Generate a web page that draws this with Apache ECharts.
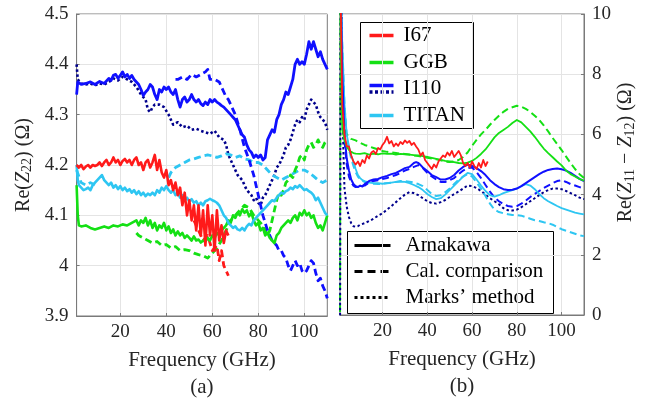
<!DOCTYPE html>
<html><head><meta charset="utf-8">
<script src="https://cdn.jsdelivr.net/npm/echarts@6/dist/echarts.min.js"></script>
<style>html,body{margin:0;background:#fff}#c{width:654px;height:399px}</style>
</head><body><div id="c"></div><script>
// ---- Panel (a): Re(Z22) in ohms vs frequency in GHz ----
const z22_I110_amakawa = [[1,4.34],[1.5,4.365],[3,4.36],[5,4.362],[7,4.365],[9,4.36],[11,4.366],[13,4.362],[15,4.372],[16,4.368],[17,4.378],[18,4.38],[19,4.372],[20,4.378],[21,4.385],[22,4.375],[23,4.38],[24,4.372],[25,4.378],[26,4.37],[27,4.365],[28,4.36],[29,4.35],[30,4.338],[31,4.345],[32,4.35],[33,4.36],[34,4.355],[35,4.34],[36,4.33],[37,4.35],[38,4.345],[39,4.355],[40,4.35],[41,4.355],[42,4.345],[43,4.34],[44,4.35],[45,4.33],[46,4.315],[47,4.33],[48,4.335],[49,4.325],[50,4.33],[51,4.34],[52,4.33],[53,4.325],[54,4.33],[55,4.322],[56,4.318],[57,4.325],[58,4.32],[59,4.33],[60,4.325],[61,4.33],[62,4.325],[63,4.322],[64,4.318],[65,4.315],[66,4.31],[67,4.305],[68,4.30],[69,4.295],[70,4.29],[71,4.28],[72,4.27],[73,4.26],[74,4.255],[75,4.24],[76,4.23],[77,4.225],[78,4.215],[79,4.22],[80,4.215],[81,4.22],[82,4.21],[83,4.215],[84,4.25],[85,4.26],[86,4.27],[87,4.265],[88,4.29],[89,4.30],[90,4.32],[91,4.33],[92,4.345],[93,4.34],[94,4.355],[95,4.37],[96,4.40],[97,4.41],[98,4.40],[99,4.405],[100,4.40],[101,4.42],[102,4.445],[103,4.43],[104,4.445],[105,4.43],[106,4.415],[107,4.425],[108,4.41],[109,4.40],[110,4.39]];
const z22_I110_cal = [[44,4.37],[45,4.37],[47,4.375],[49,4.37],[51,4.38],[53,4.375],[55,4.38],[57,4.385],[58,4.39],[59,4.37],[61,4.37],[63,4.365],[65,4.345],[66,4.335],[67,4.33],[68,4.32],[70,4.30],[72,4.27],[74,4.235],[76,4.21],[78,4.18],[79,4.16],[80,4.14],[81,4.12],[82,4.10],[83,4.085],[84,4.07],[85,4.06],[86,4.05],[87,4.045],[88,4.04],[89,4.03],[90,4.03],[91,4.02],[92,4.015],[93,4.0],[94,3.99],[95,4.0],[96,4.01],[97,4.0],[98,4.005],[99,3.99],[100,3.985],[101,3.99],[102,4.0],[103,4.01],[104,4.005],[105,3.985],[106,3.97],[107,3.975],[108,3.96],[109,3.95],[110,3.935]];
const z22_I110_marks = [[1,4.40],[1.5,4.37],[3,4.362],[5,4.36],[7,4.362],[9,4.358],[11,4.362],[13,4.36],[15,4.365],[17,4.372],[19,4.368],[21,4.375],[23,4.37],[25,4.365],[27,4.355],[29,4.34],[31,4.33],[32,4.31],[33,4.305],[34,4.315],[35,4.32],[37,4.32],[39,4.315],[41,4.30],[42,4.29],[43,4.28],[45,4.285],[47,4.275],[49,4.278],[51,4.27],[53,4.272],[55,4.268],[57,4.265],[59,4.262],[61,4.268],[63,4.255],[65,4.25],[66,4.24],[67,4.22],[68,4.21],[69,4.20],[70,4.19],[71,4.18],[72,4.175],[73,4.17],[74,4.16],[75,4.15],[76,4.145],[77,4.14],[78,4.13],[79,4.135],[80,4.125],[81,4.12],[82,4.135],[83,4.14],[84,4.15],[85,4.16],[86,4.17],[87,4.18],[88,4.195],[89,4.2],[90,4.21],[91,4.22],[92,4.235],[93,4.24],[94,4.25],[95,4.265],[96,4.28],[97,4.29],[98,4.285],[99,4.295],[100,4.29],[101,4.31],[102,4.32],[103,4.33],[104,4.325],[105,4.32],[106,4.305],[107,4.295],[108,4.29],[109,4.285],[110,4.27]];
const z22_I67_amakawa = [[1,4.20],[2,4.195],[3,4.2],[4,4.192],[5,4.197],[6,4.2],[7,4.195],[8,4.2],[9,4.198],[10,4.2],[11,4.205],[12,4.198],[13,4.205],[14,4.21],[15,4.2],[16,4.205],[17,4.215],[18,4.205],[19,4.21],[20,4.2],[21,4.208],[22,4.212],[23,4.205],[24,4.21],[25,4.2],[26,4.21],[27,4.215],[28,4.2],[29,4.205],[30,4.19],[31,4.205],[32,4.21],[33,4.195],[34,4.205],[35,4.22],[36,4.19],[37,4.21],[38,4.185],[39,4.175],[40,4.19],[41,4.16],[42,4.17],[43,4.15],[44,4.165],[45,4.14],[46,4.155],[47,4.12],[48,4.145],[49,4.10],[50,4.13],[51,4.09],[52,4.12],[53,4.07],[54,4.12],[55,4.06],[56,4.11],[57,4.04],[58,4.12],[59,4.06],[60,4.10],[61,4.03],[62,4.11],[63,4.05],[64,4.08],[65,4.045],[66,4.07],[67,4.06]];
const z22_I67_cal = [[52,4.09],[54,4.07],[56,4.05],[58,4.06],[60,4.03],[62,4.04],[63,4.01],[64,4.03],[65,4.0],[66,3.99],[67,3.98]];
const z22_GGB_amakawa = [[1,4.16],[1.5,4.10],[2,4.08],[3,4.078],[5,4.08],[7,4.075],[9,4.072],[11,4.075],[13,4.078],[15,4.075],[17,4.08],[19,4.078],[21,4.082],[23,4.08],[25,4.085],[27,4.09],[28,4.08],[29,4.09],[30,4.085],[31,4.095],[32,4.08],[33,4.09],[34,4.075],[35,4.085],[36,4.07],[37,4.08],[38,4.075],[39,4.085],[40,4.07],[41,4.078],[42,4.065],[43,4.072],[44,4.06],[45,4.068],[46,4.06],[47,4.065],[48,4.055],[49,4.06],[50,4.055],[51,4.05],[52,4.058],[53,4.05],[54,4.052],[55,4.046],[56,4.05],[57,4.048],[58,4.055],[59,4.05],[60,4.06],[61,4.055],[62,4.065],[63,4.06],[64,4.07],[65,4.075],[66,4.08],[67,4.09],[68,4.085],[69,4.1],[70,4.095],[71,4.105],[72,4.1],[73,4.112],[74,4.105],[75,4.11],[76,4.098],[77,4.105],[78,4.09],[79,4.08],[80,4.085],[81,4.07],[82,4.075],[83,4.06],[84,4.065],[85,4.055],[86,4.05],[87,4.045],[88,4.06],[89,4.065],[90,4.075],[91,4.08],[92,4.085],[93,4.09],[94,4.085],[95,4.095],[96,4.1],[97,4.09],[98,4.105],[99,4.1],[100,4.11],[101,4.1],[102,4.105],[103,4.095],[104,4.1],[105,4.085],[106,4.075],[107,4.08],[108,4.07],[109,4.085],[110,4.1]];
const z22_GGB_cal = [[27,4.065],[28,4.06],[30,4.055],[32,4.05],[34,4.045],[36,4.048],[38,4.04],[40,4.042],[42,4.035],[44,4.038],[46,4.03],[48,4.032],[50,4.03],[52,4.025],[54,4.022],[56,4.02],[58,4.015],[60,4.025],[62,4.035],[64,4.05],[66,4.07],[68,4.09],[70,4.1],[72,4.11],[74,4.12],[76,4.115],[78,4.1],[80,4.09],[82,4.08],[84,4.06],[85,4.07],[86,4.09],[87,4.11],[88,4.13],[89,4.145],[90,4.14],[91,4.15],[92,4.165],[93,4.17],[94,4.18],[95,4.175],[96,4.19],[97,4.2],[98,4.215],[99,4.22],[100,4.21],[101,4.23],[102,4.24],[103,4.245],[104,4.235],[105,4.24],[106,4.25],[107,4.24],[108,4.235],[109,4.245],[110,4.25]];
const z22_TITAN_amakawa = [[1,4.20],[1.5,4.17],[2,4.16],[3,4.155],[4,4.15],[5,4.152],[6,4.155],[7,4.15],[8,4.16],[9,4.165],[10,4.17],[11,4.175],[12,4.18],[13,4.17],[14,4.165],[15,4.16],[16,4.165],[17,4.155],[18,4.16],[19,4.152],[20,4.158],[21,4.15],[22,4.155],[23,4.148],[24,4.152],[25,4.145],[26,4.15],[27,4.142],[28,4.148],[29,4.14],[30,4.145],[31,4.138],[32,4.143],[33,4.14],[34,4.145],[35,4.14],[36,4.15],[37,4.145],[38,4.155],[39,4.15],[40,4.158],[41,4.15],[42,4.145],[43,4.15],[44,4.14],[45,4.145],[46,4.135],[47,4.14],[48,4.13],[49,4.135],[50,4.128],[51,4.132],[52,4.125],[53,4.128],[54,4.12],[55,4.125],[56,4.12],[57,4.128],[58,4.13],[59,4.133],[60,4.13],[61,4.128],[62,4.125],[63,4.12],[64,4.11],[65,4.1],[66,4.095],[67,4.085],[68,4.08],[69,4.075],[70,4.078],[71,4.072],[72,4.07],[73,4.075],[74,4.07],[75,4.078],[76,4.083],[77,4.08],[78,4.09],[79,4.095],[80,4.1],[81,4.105],[82,4.11],[83,4.115],[84,4.12],[85,4.125],[86,4.13],[87,4.128],[88,4.135],[89,4.14],[90,4.145],[91,4.143],[92,4.148],[93,4.15],[94,4.155],[95,4.152],[96,4.158],[97,4.155],[98,4.16],[99,4.155],[100,4.15],[101,4.152],[102,4.148],[103,4.145],[104,4.14],[105,4.13],[106,4.135],[107,4.125],[108,4.115],[109,4.105],[110,4.1]];
const z22_TITAN_cal = [[1,4.19],[3,4.165],[5,4.16],[7,4.165],[9,4.16],[9.5,null],[41,4.175],[42,4.185],[43,4.19],[44,4.195],[46,4.2],[48,4.205],[50,4.21],[52,4.212],[54,4.215],[56,4.218],[58,4.22],[60,4.218],[62,4.215],[64,4.218],[66,4.222],[68,4.22],[70,4.215],[72,4.218],[74,4.212],[76,4.21],[78,4.205],[80,4.205],[82,4.2],[84,4.19],[86,4.18],[88,4.175],[90,4.17],[92,4.175],[94,4.18],[96,4.185],[98,4.19],[100,4.19],[102,4.185],[104,4.178],[106,4.17],[108,4.165],[110,4.17]];

// ---- Panel (b): Re(Z11 - Z12) in ohms vs frequency in GHz ----
const zs_I67_amakawa = [[1,12],[2,7],[3,6.0],[4,5.6],[5,5.6],[6,5.3],[7,5.1],[8,5.0],[9,5.1],[10,4.95],[11,5.15],[12,5.05],[13,5.3],[14,5.2],[15,5.4],[16,5.45],[17,5.35],[18,5.55],[19,5.5],[20,5.65],[21,5.75],[22,5.92],[23,5.7],[24,5.78],[25,5.6],[26,5.7],[27,5.62],[28,5.75],[29,5.68],[30,5.8],[31,5.72],[32,5.78],[33,5.65],[34,5.72],[35,5.6],[36,5.5],[37,5.3],[38,5.4],[39,5.15],[40,5.05],[41,4.95],[42,4.85],[43,5.0],[44,4.9],[45,5.1],[46,5.2],[47,5.3],[48,5.25],[49,5.4],[50,5.3],[51,5.45],[52,5.25],[53,5.35],[54,5.45],[55,5.3],[56,5.05],[57,4.95],[58,5.05],[59,4.9],[60,5.1],[61,4.95],[62,4.85],[63,5.05],[64,4.9],[65,5.15],[66,4.95],[67,5.1]];
const zs_GGB_amakawa = [[1,12],[1.5,8],[2,6.2],[3,5.8],[4,5.6],[5,5.48],[6,5.42],[7,5.38],[8,5.36],[10,5.35],[12,5.38],[14,5.33],[16,5.36],[18,5.34],[20,5.37],[22,5.35],[24,5.36],[26,5.33],[28,5.35],[30,5.34],[32,5.33],[34,5.31],[36,5.3],[38,5.28],[40,5.25],[42,5.22],[44,5.19],[46,5.15],[48,5.12],[50,5.1],[52,5.08],[54,5.05],[56,5.04],[58,5.06],[60,5.12],[62,5.22],[64,5.35],[66,5.5],[68,5.7],[70,5.9],[72,6.05],[74,6.15],[76,6.25],[78,6.38],[80,6.48],[82,6.4],[84,6.25],[86,6.1],[88,5.92],[90,5.72],[92,5.53],[94,5.38],[96,5.24],[98,5.1],[100,4.97],[102,4.8],[104,4.68],[106,4.6],[108,4.52],[110,4.46]];
const zs_GGB_cal = [[1,12],[2,7],[3,6.2],[4,6.0],[5,5.92],[6,5.85],[8,5.8],[10,5.72],[12,5.65],[14,5.6],[16,5.55],[18,5.5],[20,5.45],[22,5.42],[24,5.4],[26,5.38],[28,5.36],[30,5.35],[32,5.33],[34,5.3],[36,5.28],[38,5.25],[40,5.22],[42,5.2],[44,5.17],[46,5.14],[48,5.1],[50,5.08],[52,5.1],[54,5.15],[56,5.25],[58,5.4],[60,5.62],[62,5.82],[64,6.0],[66,6.15],[68,6.32],[70,6.48],[72,6.62],[74,6.75],[76,6.85],[78,6.9],[80,6.95],[82,6.92],[84,6.85],[86,6.75],[88,6.62],[90,6.48],[92,6.3],[94,6.1],[96,5.88],[98,5.68],[100,5.48],[102,5.26],[104,5.05],[106,4.85],[108,4.68],[110,4.55]];
const zs_GGB_marks = [[1,-1],[1.3,14]];
const zs_I110_amakawa = [[1,12],[2,8],[3,6.0],[4,5.2],[5,4.8],[6,4.5],[7,4.35],[8,4.28],[9,4.25],[10,4.3],[11,4.27],[12,4.35],[13,4.4],[14,4.45],[16,4.5],[18,4.52],[20,4.58],[22,4.62],[24,4.68],[26,4.72],[28,4.8],[30,4.88],[32,4.92],[34,5.05],[35,5.08],[36,5.05],[37,4.98],[38,4.9],[40,4.78],[42,4.65],[44,4.58],[46,4.5],[48,4.5],[50,4.55],[52,4.65],[54,4.8],[56,4.92],[58,5.0],[60,4.95],[62,4.88],[64,4.78],[66,4.65],[68,4.48],[70,4.35],[72,4.25],[74,4.18],[76,4.15],[78,4.16],[80,4.2],[82,4.28],[84,4.38],[86,4.48],[88,4.58],[90,4.68],[92,4.76],[94,4.82],[96,4.85],[98,4.87],[100,4.84],[102,4.8],[104,4.72],[106,4.62],[108,4.52],[110,4.45]];
const zs_I110_cal = [[1,12],[2,8],[3,5.8],[4,5.0],[5,4.6],[6,4.4],[7,4.3],[8,4.25],[10,4.28],[12,4.3],[14,4.4],[16,4.45],[18,4.48],[20,4.52],[22,4.55],[24,4.6],[26,4.65],[28,4.72],[30,4.8],[32,4.85],[34,4.92],[36,4.98],[38,4.88],[40,4.72],[42,4.6],[44,4.5],[46,4.42],[48,4.42],[50,4.48],[52,4.55],[54,4.68],[56,4.8],[58,4.88],[60,4.9],[62,4.75],[64,4.55],[66,4.32],[68,4.1],[70,3.9],[72,3.78],[74,3.68],[76,3.62],[78,3.6],[80,3.62],[82,3.7],[84,3.8],[86,3.92],[88,4.02],[90,4.12],[92,4.22],[94,4.3],[96,4.38],[98,4.45],[100,4.48],[102,4.42],[104,4.35],[106,4.3],[108,4.25],[110,4.2]];
const zs_I110_marks = [[1,-2],[1.3,14],[2,8],[2.5,5.5],[3,4.2],[4,3.6],[5,3.25],[6,3.05],[7,2.95],[8,2.93],[9,2.95],[10,3.0],[12,3.05],[14,3.12],[16,3.2],[18,3.3],[20,3.38],[22,3.5],[24,3.62],[26,3.75],[28,3.88],[30,4.0],[32,4.08],[34,4.05],[36,3.98],[38,3.88],[40,3.78],[42,3.72],[44,3.7],[46,3.75],[48,3.82],[50,3.92],[52,4.02],[54,4.1],[56,4.2],[58,4.3],[60,4.28],[62,4.22],[64,4.12],[66,4.0],[68,3.88],[70,3.78],[72,3.68],[74,3.55],[76,3.48],[78,3.47],[80,3.5],[82,3.58],[84,3.68],[86,3.78],[88,3.88],[90,3.98],[92,4.08],[94,4.15],[96,4.2],[98,4.2],[100,4.18],[102,4.12],[104,4.05],[106,3.98],[108,3.9],[110,3.85]];
const zs_TITAN_amakawa = [[1,12],[2,9],[3,7],[4,6.0],[5,5.6],[6,5.3],[7,5.1],[8,4.85],[9,4.65],[10,4.55],[11,4.48],[12,4.45],[14,4.4],[16,4.38],[18,4.38],[20,4.36],[22,4.38],[24,4.4],[26,4.42],[28,4.43],[30,4.42],[32,4.38],[34,4.32],[36,4.25],[38,4.15],[40,4.02],[42,3.92],[44,3.85],[46,3.88],[48,4.0],[50,4.15],[52,4.3],[54,4.45],[56,4.6],[58,4.72],[60,4.68],[62,4.5],[64,4.3],[66,4.12],[68,3.98],[70,3.93],[72,3.98],[74,4.05],[76,4.1],[78,4.15],[80,4.2],[82,4.28],[84,4.35],[86,4.3],[88,4.18],[90,4.02],[92,3.88],[94,3.78],[96,3.7],[98,3.62],[100,3.55],[102,3.5],[104,3.45],[106,3.4],[108,3.37],[110,3.34]];
const zs_TITAN_cal = [[1,12],[2,9],[3,7],[4,6.0],[5,5.5],[6,5.2],[7,4.95],[8,4.75],[9,4.6],[10,4.5],[12,4.42],[14,4.38],[16,4.36],[18,4.35],[20,4.36],[22,4.38],[24,4.4],[26,4.42],[28,4.45],[30,4.45],[32,4.43],[34,4.4],[36,4.35],[38,4.28],[40,4.15],[42,4.02],[44,3.95],[46,3.98],[48,4.08],[50,4.2],[52,4.35],[54,4.5],[56,4.6],[58,4.68],[60,4.6],[62,4.4],[64,4.2],[66,3.95],[68,3.7],[70,3.5],[72,3.42],[74,3.38],[76,3.35],[78,3.32],[80,3.32],[82,3.3],[84,3.25],[86,3.2],[88,3.15],[90,3.12],[92,3.08],[94,3.05],[96,3.0],[98,2.92],[100,2.85],[102,2.8],[104,2.75],[106,2.7],[108,2.65],[110,2.62]];

// axis ticks and legend labels
const freqTicks = [20, 40, 60, 80, 100];
const legendDevices = ['I67', 'GGB', 'I110', 'TITAN'];
const legendMethods = ['Amakawa', 'Cal. comparison', 'Marks’ method'];

const C = { red: '#ff1a1a', green: '#14e014', blue: '#1010ff', navy: '#00008c', cyan: '#2ec6f2' };
const FONT = '"Liberation Serif", serif';
const INK = '#262626';
const DASH = [7, 4], DOT = [2.5, 2.5];
const LEGEND_FONT = '21px "Liberation Serif", serif';

function line(name, data, g, color, type, width, z) {
  return {
    type: 'line', name, data, xAxisIndex: g, yAxisIndex: g,
    symbol: 'none', showSymbol: false, clip: true, z: z || 2,
    connectNulls: false, animation: false,
    lineStyle: { color, width, type: type || 'solid', cap: 'butt', join: 'round' },
    emphasis: { disabled: true }
  };
}

const axisText = { color: INK, fontFamily: FONT, fontSize: 19 };
const rich = {
  n: { fontFamily: FONT, fontSize: 20, color: INK, lineHeight: 22 },
  i: { fontFamily: FONT, fontSize: 20, color: INK, fontStyle: 'italic', lineHeight: 22 },
  s: { fontFamily: FONT, fontSize: 14, color: INK, padding: [8, 0, 0, 0], lineHeight: 22 }
};

function xAxisFor(g, label) {
  return {
    type: 'value', gridIndex: g, min: 1, max: 110,
    name: 'Frequency (GHz)\n' + label, nameLocation: 'middle', nameGap: 22,
    nameTextStyle: { fontFamily: FONT, fontSize: 21, color: INK, lineHeight: 27 },
    axisLine: { show: true, lineStyle: { color: '#7a7a7a', width: 1 } },
    axisTick: { show: true, inside: true, length: 3, customValues: freqTicks, lineStyle: { color: '#7a7a7a' } },
    axisLabel: Object.assign({ margin: 7, customValues: freqTicks }, axisText),
    splitLine: { show: true, lineStyle: { color: '#e4e4e4', width: 1 } }
  };
}

const option = {
  backgroundColor: '#fff',
  animation: false,
  grid: [
    { left: 76.6, top: 14, width: 250.7, height: 302, show: true, borderColor: '#7a7a7a', borderWidth: 1, backgroundColor: '#fff', containLabel: false, outerBoundsMode: 'none' },
    { left: 340, top: 14, width: 244, height: 301, show: true, borderColor: '#7a7a7a', borderWidth: 1, backgroundColor: '#fff', containLabel: false, outerBoundsMode: 'none' }
  ],
  xAxis: [xAxisFor(0, '(a)'), xAxisFor(1, '(b)')],
  yAxis: [
    {
      type: 'value', gridIndex: 0, min: 3.9, max: 4.5, interval: 0.1, position: 'left',
      name: '{n|Re(}{i|Z}{s|22}{n|) (Ω)}', nameLocation: 'middle', nameRotate: 90, nameGap: 42,
      nameTextStyle: { rich },
      axisLine: { show: true, lineStyle: { color: '#7a7a7a' } },
      axisTick: { show: true, inside: true, length: 3, lineStyle: { color: '#7a7a7a' } },
      axisLabel: Object.assign({ margin: 8, showMinLabel: true, showMaxLabel: true }, axisText),
      splitLine: { show: true, lineStyle: { color: '#e4e4e4', width: 1 } }
    },
    {
      type: 'value', gridIndex: 1, min: 0, max: 10, interval: 2, position: 'right',
      name: '{n|Re(}{i|Z}{s|11}{n| − }{i|Z}{s|12}{n|) (Ω)}', nameLocation: 'middle', nameRotate: 90, nameGap: 31,
      nameTextStyle: { rich, padding: [0, 0, 0, 24] },
      axisLine: { show: true, lineStyle: { color: '#7a7a7a' } },
      axisTick: { show: true, inside: true, length: 3, lineStyle: { color: '#7a7a7a' } },
      axisLabel: Object.assign({ margin: 8, showMinLabel: true, showMaxLabel: true }, axisText),
      splitLine: { show: true, lineStyle: { color: '#e4e4e4', width: 1 } }
    }
  ],
  series: [
    // panel (a)
    line('I110 Marks', z22_I110_marks, 0, C.navy, DOT, 2.6),
    line('TITAN Cal', z22_TITAN_cal, 0, C.cyan, DASH, 2.8),
    line('GGB Cal', z22_GGB_cal, 0, C.green, DASH, 2.8),
    line('I67 Cal', z22_I67_cal, 0, C.red, DASH, 2.8),
    line('I110 Cal', z22_I110_cal, 0, C.blue, DASH, 2.8),
    line('GGB', z22_GGB_amakawa, 0, C.green, 'solid', 2.6, 3),
    line('TITAN', z22_TITAN_amakawa, 0, C.cyan, 'solid', 2.6, 3),
    line('I67', z22_I67_amakawa, 0, C.red, 'solid', 2.6, 3),
    line('I110', z22_I110_amakawa, 0, C.blue, 'solid', 2.8, 3),
    // panel (b)
    line('GGB Marks', zs_GGB_marks, 1, C.green, DASH, 2),
    line('I110 Marks b', zs_I110_marks, 1, C.navy, DOT, 2),
    line('TITAN Cal b', zs_TITAN_cal, 1, C.cyan, DASH, 2),
    line('I110 Cal b', zs_I110_cal, 1, C.blue, DASH, 2),
    line('GGB Cal b', zs_GGB_cal, 1, C.green, DASH, 2),
    line('TITAN b', zs_TITAN_amakawa, 1, C.cyan, 'solid', 1.8, 3),
    line('I110 b', zs_I110_amakawa, 1, C.blue, 'solid', 2, 3),
    line('GGB b', zs_GGB_amakawa, 1, C.green, 'solid', 1.8, 3),
    line('I67 b', zs_I67_amakawa, 1, C.red, 'solid', 1.8, 3)
  ],
  graphic: [
    {
      type: 'group', left: 360, top: 22, z: 100,
      children: [
        { type: 'rect', shape: { x: 0, y: 0, width: 113, height: 106 }, style: { fill: '#fff', stroke: '#000', lineWidth: 1 } },
        { type: 'line', shape: { x1: 9, y1: 13, x2: 33, y2: 13 }, style: { stroke: C.red, lineWidth: 3.5 } },
        { type: 'line', shape: { x1: 9, y1: 40, x2: 33, y2: 40 }, style: { stroke: C.green, lineWidth: 3.5 } },
        { type: 'line', shape: { x1: 9, y1: 63, x2: 33, y2: 63 }, style: { stroke: C.blue, lineWidth: 3.5 } },
        { type: 'line', shape: { x1: 9, y1: 69.5, x2: 33, y2: 69.5 }, style: { stroke: C.navy, lineWidth: 3.5, lineDash: [3, 2.5] } },
        { type: 'line', shape: { x1: 9, y1: 93, x2: 33, y2: 93 }, style: { stroke: C.cyan, lineWidth: 3.5 } },
        { type: 'text', style: { x: 43, y: 13, text: legendDevices[0], font: LEGEND_FONT, fill: '#000', verticalAlign: 'middle' } },
        { type: 'text', style: { x: 43, y: 40, text: legendDevices[1], font: LEGEND_FONT, fill: '#000', verticalAlign: 'middle' } },
        { type: 'text', style: { x: 43, y: 66, text: legendDevices[2], font: LEGEND_FONT, fill: '#000', verticalAlign: 'middle' } },
        { type: 'text', style: { x: 43, y: 93, text: legendDevices[3], font: LEGEND_FONT, fill: '#000', verticalAlign: 'middle' } }
      ]
    },
    {
      type: 'group', left: 347, top: 231, z: 100,
      children: [
        { type: 'rect', shape: { x: 0, y: 0, width: 206, height: 82 }, style: { fill: '#fff', stroke: '#000', lineWidth: 1 } },
        { type: 'line', shape: { x1: 7, y1: 14, x2: 43, y2: 14 }, style: { stroke: '#000', lineWidth: 3 } },
        { type: 'line', shape: { x1: 7, y1: 40, x2: 43, y2: 40 }, style: { stroke: '#000', lineWidth: 3, lineDash: [8, 5] } },
        { type: 'line', shape: { x1: 7, y1: 66, x2: 43, y2: 66 }, style: { stroke: '#000', lineWidth: 3, lineDash: [3, 3] } },
        { type: 'text', style: { x: 58, y: 14, text: legendMethods[0], font: LEGEND_FONT, fill: '#000', verticalAlign: 'middle' } },
        { type: 'text', style: { x: 58, y: 40, text: legendMethods[1], font: LEGEND_FONT, fill: '#000', verticalAlign: 'middle' } },
        { type: 'text', style: { x: 58, y: 66, text: legendMethods[2], font: LEGEND_FONT, fill: '#000', verticalAlign: 'middle' } }
      ]
    }
  ]
};

const chart = echarts.init(document.getElementById('c'), null, { renderer: 'canvas', width: 654, height: 399 });
chart.setOption(option);
</script></body></html>
